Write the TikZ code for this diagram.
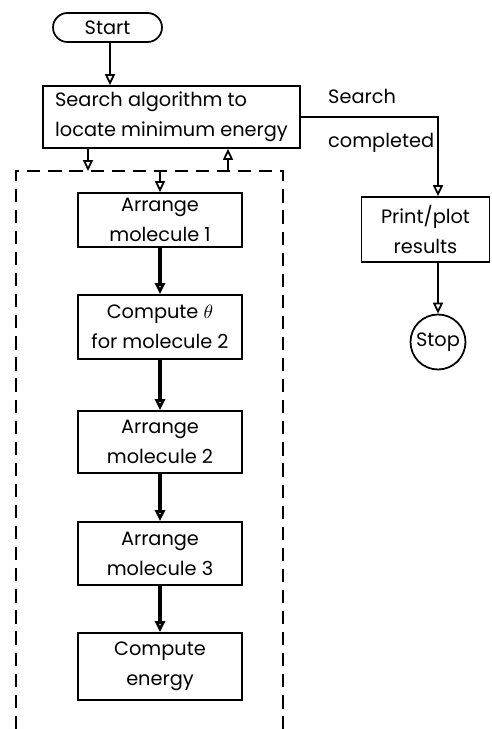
\documentclass[tikz,border=0pt]{standalone}
\usepackage{fontspec}
\setmainfont{Poppins}
\usetikzlibrary{positioning, arrows.meta}

\begin{document}
\begin{tikzpicture}[
  x=0.02cm, y=-0.02cm,
  font=\fontsize{11}{17}\selectfont,
  >={Triangle[open, length=2.2mm, width=2mm]},
  box/.style   ={draw, line width=1pt, align=center, inner sep=3pt},
  term/.style  ={draw, line width=1pt, align=center, inner sep=2pt},
  stage/.style ={box, minimum width=3.28cm},
  arr/.style   ={->, line width=1pt},
  flow/.style  ={->, line width=1.8pt},
  loop/.style  ={line width=1pt, dash pattern=on 7.5pt off 4.5pt},
]
\useasboundingbox (0,0) rectangle (491,729);

% ---- start and search ----
\node[term, rounded corners=2.9mm, minimum width=2.18cm, minimum height=0.58cm] (start) at (107.5,27.5) {Start};
\node[box, align=left, minimum width=5.14cm, minimum height=1.24cm] (search) at (171.5,117)
  {Search algorithm to\\locate minimum energy};
\draw[arr] (start.south -| 110,0) -- (search.north -| 110,0);

% ---- inner loop (dashed frame, open at the bottom) ----
\draw[loop] (16,729) -- (16,171) -- (283,171) -- (283,729);
\coordinate (loopin)  at (88,171);
\coordinate (looptop) at (160,171);
\coordinate (loopout) at (228,171);

\node[stage, minimum height=1.08cm] (arr1)   at (160,220)   {Arrange\\molecule 1};
\node[stage, minimum height=1.28cm] (theta)  at (160,327)   {Compute $\theta$\\for molecule 2};
\node[stage, minimum height=1.24cm] (arr2)   at (160,442)   {Arrange\\molecule 2};
\node[stage, minimum height=1.26cm] (arr3)   at (160,553.5) {Arrange\\molecule 3};
\node[stage, minimum height=1.34cm] (energy) at (160,666.5) {Compute\\energy};

\draw[arr] (search.south -| loopin) -- (loopin);
\draw[arr] (loopout) -- (search.south -| loopout);
\draw[arr] (looptop) -- (arr1);
\draw[flow] (arr1) -- (theta);
\draw[flow] (theta) -- (arr2);
\draw[flow] (arr2) -- (arr3);
\draw[flow] (arr3) -- (energy);

% ---- exit branch ----
\node[box, minimum width=2.56cm, minimum height=1.3cm] (print) at (425.5,229.5) {Print/plot\\results};
\node[term, circle, minimum size=1.1cm, inner sep=0pt] (stop) at (438,342) {Stop};
\node[align=left, anchor=west] (done) at (322,121) {Search\\[8pt]completed};

\draw[arr] (search.east) -| (print.north -| stop);
\draw[arr] (print.south -| stop) -- (stop);

\end{tikzpicture}
\end{document}
